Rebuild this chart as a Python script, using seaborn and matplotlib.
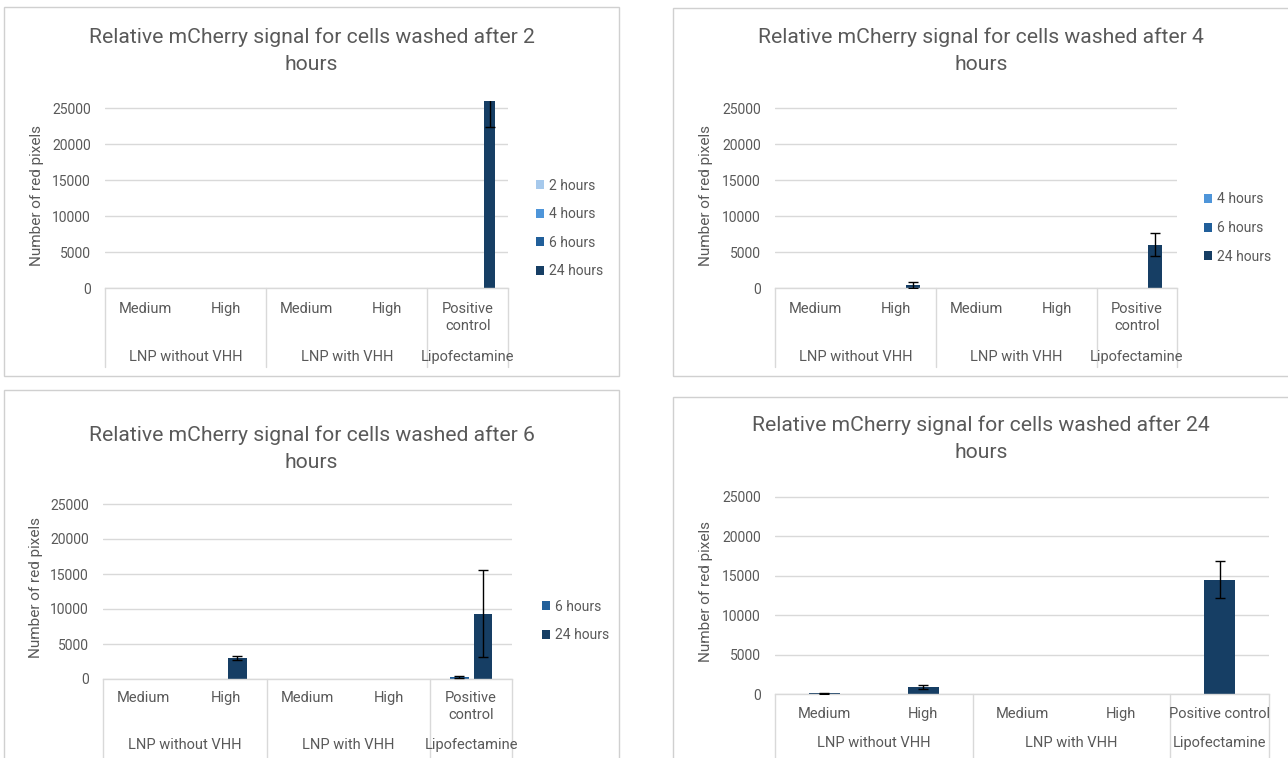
import numpy as np
import pandas as pd
import matplotlib
matplotlib.use("Agg")
import matplotlib.pyplot as plt
import matplotlib.transforms as mtransforms
from matplotlib.patches import Rectangle
from matplotlib.lines import Line2D
import seaborn as sns

# Category axis (two levels)
categories = ["Medium", "High", "Medium", "High", "Positive control"]
groups = ["LNP without VHH", "LNP with VHH", "Lipofectamine"]
group_spans = [(0, 1), (2, 3), (4, 4)]

# Series (time point of imaging)
series_names = ["2 hours", "4 hours", "6 hours", "24 hours"]
series_colors = ["#A6C9EC", "#4E95D9", "#215F9A", "#163E64"]

# Washed after 2 hours
wash2_2h = [0, 0, 0, 0, 0]
wash2_4h = [0, 0, 0, 0, 0]
wash2_6h = [0, 0, 0, 0, 0]
wash2_24h = [0, 0, 0, 0, 27000]
wash2_24h_err = [0, 0, 0, 0, 4600]

# Washed after 4 hours
wash4_4h = [0, 0, 0, 0, 0]
wash4_6h = [0, 0, 0, 0, 0]
wash4_24h = [0, 380, 0, 0, 6000]
wash4_24h_err = [0, 420, 0, 0, 1620]

# Washed after 6 hours
wash6_6h = [0, 0, 0, 0, 330]
wash6_6h_err = [0, 0, 0, 0, 130]
wash6_24h = [0, 3050, 0, 0, 9350]
wash6_24h_err = [0, 270, 0, 0, 6170]

# Washed after 24 hours
wash24_24h = [80, 900, 0, 0, 14500]
wash24_24h_err = [60, 270, 0, 0, 2330]

zeros = [0, 0, 0, 0, 0]

panels = [
    {"title": "Relative mCherry signal for cells washed after 2\nhours",
     "series": {"2 hours": (wash2_2h, zeros), "4 hours": (wash2_4h, zeros),
                "6 hours": (wash2_6h, zeros), "24 hours": (wash2_24h, wash2_24h_err)}},
    {"title": "Relative mCherry signal for cells washed after 4\nhours",
     "series": {"4 hours": (wash4_4h, zeros), "6 hours": (wash4_6h, zeros),
                "24 hours": (wash4_24h, wash4_24h_err)}},
    {"title": "Relative mCherry signal for cells washed after 6\nhours",
     "series": {"6 hours": (wash6_6h, wash6_6h_err), "24 hours": (wash6_24h, wash6_24h_err)}},
    {"title": "Relative mCherry signal for cells washed after 24\nhours",
     "series": {"24 hours": (wash24_24h, wash24_24h_err)}},
]

# Layout in pixels (left, top, right, bottom)
layout = [
    dict(frame=(4, 7, 619, 376), plot=(105, 100.8, 508, 288), title=(311.5, 51), ylab=(37, 196),
         cat_y=309, group_y=357, line_bottom=367, legend=(536, 228.5), wrap=True),
    dict(frame=(673, 8, 1300, 376), plot=(775, 100.8, 1177, 288), title=(981, 51), ylab=(706, 196),
         cat_y=309, group_y=357, line_bottom=367, legend=(1204, 228), wrap=True),
    dict(frame=(4, 390, 619, 770), plot=(103, 497, 512, 679), title=(311.5, 449), ylab=(36, 588),
         cat_y=698, group_y=745, line_bottom=770, legend=(542, 621), wrap=True),
    dict(frame=(673, 397, 1300, 770), plot=(775, 489, 1269, 694), title=(981, 438.5), ylab=(706, 592),
         cat_y=714, group_y=743, line_bottom=770, legend=None, wrap=False),
]

W, H = 1288, 758
TEXT = "#595959"
GRID = "#D9D9D9"

sns.set_style("white")
plt.rcParams["font.family"] = ["Roboto", "DejaVu Sans"]

fig = plt.figure(figsize=(W / 100, H / 100), dpi=100)
fig.patch.set_facecolor("white")


def fx(x):
    return x / W


def fy(y):
    return 1 - y / H


for panel, lay in zip(panels, layout):
    l, t, r, b = lay["frame"]
    fig.add_artist(Rectangle((fx(l), fy(b)), (r - l) / W, (b - t) / H, transform=fig.transFigure,
                             fill=False, edgecolor="#D0D0D0", linewidth=1.0))

    pl, pt, pr, pb = lay["plot"]
    ax = fig.add_axes([fx(pl), fy(pb), (pr - pl) / W, (pb - pt) / H])

    names = list(panel["series"].keys())
    rows = []
    for name in names:
        vals, errs = panel["series"][name]
        for i, (v, e) in enumerate(zip(vals, errs)):
            rows.append({"pos": f"c{i}", "series": name, "value": v, "err": e})
    df = pd.DataFrame(rows)

    n = len(names)
    width = 1.27 * n / (1.27 * n + 1.92)
    palette = {s: c for s, c in zip(series_names, series_colors)}
    sns.barplot(data=df, x="pos", y="value", hue="series", hue_order=names,
                order=[f"c{i}" for i in range(5)], palette=palette, saturation=1,
                width=width, gap=0.2126, linewidth=0, errorbar=None, ax=ax,
                legend=lay["legend"] is not None)

    # error bars at bar centres
    for name, cont in zip(names, ax.containers):
        vals, errs = panel["series"][name]
        for bar in cont:
            cx = bar.get_x() + bar.get_width() / 2
            i = int(round(cx))
            if errs[i] > 0:
                ax.errorbar(cx, vals[i], yerr=errs[i], fmt="none", ecolor="black",
                            elinewidth=1.0, capsize=3.5, capthick=1.0, zorder=5)

    ax.set_xlim(-0.5, 4.5)
    ax.set_ylim(0, 26000)
    ax.set_yticks([0, 5000, 10000, 15000, 20000, 25000])
    ax.set_yticklabels(["0", "5000", "10000", "15000", "20000", "25000"])
    ax.tick_params(axis="y", length=0, pad=10, labelsize=10, labelcolor=TEXT)
    ax.set_xticks([])
    ax.set_xlabel("")
    ax.set_ylabel("")
    ax.yaxis.grid(True, color=GRID, linewidth=1.0)
    ax.set_axisbelow(True)
    for side in ["left", "right", "top"]:
        ax.spines[side].set_visible(False)
    ax.spines["bottom"].set_color(GRID)
    ax.spines["bottom"].set_linewidth(1.0)
    ax.patch.set_alpha(0)

    trans = mtransforms.blended_transform_factory(ax.transData, fig.transFigure)
    for i, cat in enumerate(categories):
        label = "Positive\ncontrol" if (cat == "Positive control" and lay["wrap"]) else cat
        fig.text(i, fy(lay["cat_y"] - 7), label, transform=trans, ha="center", va="top",
                 fontsize=10.5, color=TEXT, linespacing=1.25)
    for g, (a, z) in zip(groups, group_spans):
        fig.text((a + z) / 2, fy(lay["group_y"]), g, transform=trans, ha="center", va="center",
                 fontsize=10.5, color=TEXT)
    for xb in [-0.5, 1.5, 3.5, 4.5]:
        fig.add_artist(Line2D([xb, xb], [fy(pb), fy(lay["line_bottom"])], transform=trans,
                              color=GRID, linewidth=1.0))

    fig.text(fx(lay["ylab"][0]), fy(lay["ylab"][1]), "Number of red pixels", rotation=90,
             ha="center", va="center", fontsize=11, color=TEXT)
    fig.text(fx(lay["title"][0]), fy(lay["title"][1]), panel["title"], ha="center", va="center",
             fontsize=15.2, color=TEXT, linespacing=1.55)

    if lay["legend"] is not None:
        lx, ly = lay["legend"]
        ax.legend(loc="center left", bbox_to_anchor=(fx(lx), fy(ly)), bbox_transform=fig.transFigure,
                  frameon=False, borderpad=0, borderaxespad=0, handlelength=0.6, handleheight=0.6,
                  handletextpad=0.35, labelspacing=1.05, fontsize=10, labelcolor=TEXT)

fig.savefig("out.png", dpi=100, facecolor="white")
